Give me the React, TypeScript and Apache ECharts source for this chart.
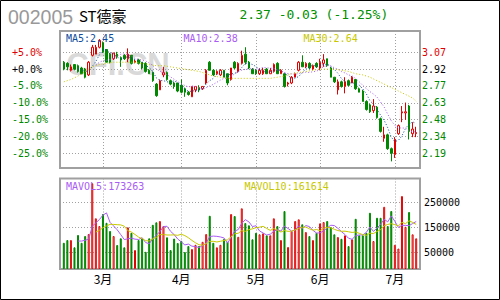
import React, { useEffect, useRef } from 'react';
import * as echarts from 'echarts';

// ---------------- data ----------------
const stockCode = '002005';
const stockName = 'ST德豪';
const quoteText = '2.37 -0.03 (-1.25%)';

const opens = [
  2.98, 2.97, 2.91, 2.96, 2.95, 2.93, 2.92, 2.87, 3.04, 3.05,
  3.11, 3.15, 3.09, 3.05, 3.01, 3.05, 3.02, 3.04, 3.01, 3.04,
  2.98, 3.00, 2.98, 2.97, 2.91, 2.89, 2.79, 2.74, 2.87, 2.89,
  2.82, 2.80, 2.80, 2.78, 2.75, 2.72, 2.68, 2.74, 2.76, 2.75,
  2.80, 2.98, 2.91, 2.88, 2.87, 2.91, 2.88, 2.83, 2.98, 2.90,
  2.97, 3.05, 2.98, 2.92, 2.91, 2.88, 2.88, 2.92, 2.88, 2.90,
  2.97, 2.88, 2.88, 2.79, 2.80, 2.85, 2.91, 2.98, 2.94, 2.97,
  2.92, 2.97, 2.93, 2.97, 3.01, 2.93, 2.85, 2.74, 2.81, 2.77,
  2.82, 2.80, 2.83, 2.75, 2.73, 2.64, 2.61, 2.56, 2.59, 2.49,
  2.32, 2.35, 2.23, 2.18, 2.36, 2.54, 2.54, 2.60, 2.36, 2.36,
];
const closes = [
  2.92, 2.94, 2.94, 2.92, 2.90, 2.88, 2.85, 2.98, 3.11, 3.11,
  3.17, 3.07, 2.98, 2.98, 3.06, 3.03, 3.00, 3.01, 3.05, 2.97,
  2.99, 2.97, 2.93, 2.90, 2.88, 2.82, 2.69, 2.82, 2.89, 2.83,
  2.79, 2.77, 2.73, 2.72, 2.72, 2.70, 2.77, 2.77, 2.74, 2.77,
  2.91, 2.91, 2.87, 2.90, 2.91, 2.85, 2.80, 2.93, 2.93, 2.97,
  3.04, 2.98, 2.93, 2.88, 2.88, 2.91, 2.91, 2.88, 2.91, 2.96,
  2.88, 2.91, 2.77, 2.80, 2.85, 2.88, 2.98, 2.94, 2.97, 2.93,
  2.95, 2.94, 2.98, 3.00, 2.95, 2.85, 2.81, 2.81, 2.77, 2.81,
  2.78, 2.85, 2.75, 2.72, 2.64, 2.57, 2.55, 2.60, 2.50, 2.38,
  2.35, 2.23, 2.19, 2.31, 2.43, 2.55, 2.55, 2.38, 2.40, 2.37,
];
const lows = [
  2.91, 2.91, 2.90, 2.91, 2.89, 2.88, 2.84, 2.86, 3.03, 3.05,
  3.10, 3.06, 2.98, 2.97, 3.00, 3.01, 2.94, 3.00, 2.98, 2.96,
  2.97, 2.96, 2.92, 2.89, 2.88, 2.81, 2.68, 2.74, 2.85, 2.82,
  2.78, 2.75, 2.72, 2.71, 2.68, 2.69, 2.68, 2.72, 2.72, 2.74,
  2.79, 2.91, 2.86, 2.87, 2.86, 2.85, 2.78, 2.82, 2.92, 2.89,
  2.96, 2.96, 2.92, 2.88, 2.87, 2.87, 2.87, 2.88, 2.88, 2.89,
  2.88, 2.88, 2.76, 2.77, 2.79, 2.85, 2.90, 2.94, 2.93, 2.92,
  2.91, 2.93, 2.91, 2.94, 2.94, 2.85, 2.80, 2.70, 2.76, 2.71,
  2.77, 2.80, 2.74, 2.72, 2.64, 2.56, 2.54, 2.54, 2.49, 2.37,
  2.29, 2.22, 2.12, 2.15, 2.35, 2.46, 2.48, 2.31, 2.33, 2.33,
];
const highs = [
  2.99, 2.98, 2.96, 2.96, 2.96, 2.94, 2.93, 2.99, 3.13, 3.13,
  3.18, 3.16, 3.09, 3.06, 3.06, 3.07, 3.03, 3.05, 3.10, 3.04,
  3.00, 3.01, 2.98, 2.98, 2.92, 2.90, 2.80, 2.83, 2.94, 2.90,
  2.83, 2.81, 2.80, 2.83, 2.76, 2.73, 2.77, 2.77, 2.78, 2.77,
  2.92, 2.99, 2.92, 2.91, 2.92, 2.91, 2.88, 2.93, 2.99, 2.98,
  3.08, 3.11, 2.99, 2.93, 2.92, 2.93, 2.93, 2.93, 2.93, 2.97,
  2.98, 2.92, 2.88, 2.81, 2.86, 2.89, 2.99, 3.04, 2.98, 2.98,
  2.96, 2.98, 3.01, 3.05, 3.01, 2.94, 2.85, 2.83, 2.82, 2.85,
  2.83, 2.86, 2.83, 2.76, 2.74, 2.65, 2.62, 2.66, 2.60, 2.50,
  2.42, 2.36, 2.24, 2.33, 2.44, 2.60, 2.63, 2.61, 2.46, 2.42,
];
const volumes = [
  88000, 99000, 99000, 70000, 119000, 88000, 115000, 123000, 326000, 186000,
  155000, 203000, 168000, 135000, 115000, 79000, 106000, 70000, 150000, 128000,
  59000, 99000, 106000, 52000, 106000, 160000, 170000, 175000, 155000, 110000,
  59000, 105000, 87000, 96000, 51000, 75000, 63000, 80000, 75000, 92000,
  123000, 196000, 88000, 70000, 80000, 103000, 92000, 203000, 195000, 112000,
  226000, 167000, 158000, 102000, 128000, 122000, 126000, 118000, 118000, 186000,
  155000, 99000, 215000, 71000, 135000, 175000, 182000, 162000, 131000, 115000,
  99000, 128000, 166000, 171000, 175000, 151000, 122000, 111000, 104000, 118000,
  75000, 102000, 184000, 118000, 118000, 128000, 208000, 95000, 188000, 188000,
  232000, 155000, 215000, 80000, 65000, 275000, 152000, 211000, 122000, 106000,
];
// MA30 as drawn in the reference (earlier history not available)
const ma30Index = [0, 2, 4, 6, 8, 10, 12, 14, 16, 18, 20, 22, 24, 26, 28, 30, 32, 34, 36, 38, 40, 42, 44, 46, 48,
  50, 52, 54, 56, 58, 60, 62, 64, 66, 68, 70, 72, 74, 76, 78, 80, 82, 84, 86, 88, 90, 92, 94, 96, 98, 99];
const ma30Value = [2.81, 2.83, 2.86, 2.90, 2.94, 2.96, 2.97, 2.98, 2.98, 2.98, 2.98, 2.97, 2.96, 2.95, 2.95,
  2.94, 2.93, 2.92, 2.91, 2.90, 2.88, 2.86, 2.85, 2.84, 2.84, 2.84, 2.84, 2.84, 2.84, 2.84, 2.85, 2.86, 2.88,
  2.89, 2.90, 2.91, 2.92, 2.92, 2.92, 2.91, 2.90, 2.88, 2.87, 2.85, 2.82, 2.79, 2.76, 2.73, 2.70, 2.67, 2.64];

const basePrice = 2.92;
const pctTicks = [5, 0, -5, -10, -15, -20, -25];
const pctTickLabels = ['+5.0%', '+0.0%', '-5.0%', '-10.0%', '-15.0%', '-20.0%', '-25.0%'];
const priceTickLabels = ['3.07', '2.92', '2.77', '2.63', '2.48', '2.34', '2.19'];
const pctRange = [-29.37, 11.33];
const volTicks = [50000, 150000, 250000];
const volTickLabels = ['50000', '150000', '250000'];
const volRange = [-16800, 345200];
const monthTickIndex = [11, 33, 54, 72, 93];
const monthTickLabel = ['3月', '4月', '5月', '6月', '7月'];
const legendMain = ['MA5:2.45', 'MA10:2.38', 'MA30:2.64'];
const legendVol = ['MAVOL5:173263', 'MAVOL10:161614'];

// ---------------- styling ----------------
const RED = '#e00000';
const GREEN = '#008800';
const BLUE = '#0d4c9e';
const PURPLE = '#a95cf5';
const YELLOW = '#c8c800';
const GRID_LINE = '#a0a0a0';
const MONO = '"DejaVu Sans Mono", monospace';

function movingAverage(src: number[], n: number) {
  return src.map((_, i) => {
    if (i < n - 1) return null;
    let s = 0;
    for (let k = i - n + 1; k <= i; k++) s += src[k];
    return +(s / n).toFixed(4);
  });
}

export default function App() {
  const ref = useRef<HTMLDivElement>(null);

  useEffect(() => {
    if (!ref.current) return;
    const chart = echarts.init(ref.current, null, { renderer: 'svg' });

    const categories = closes.map((_, i) => String(i));
    const priceMin = basePrice * (1 + pctRange[0] / 100);
    const priceMax = basePrice * (1 + pctRange[1] / 100);
    const priceTickVals = pctTicks.map((p) => basePrice * (1 + p / 100));
    const nearest = (v: any) => {
      const x = Number(v);
      let best = 0;
      priceTickVals.forEach((t, k) => {
        if (Math.abs(t - x) < Math.abs(priceTickVals[best] - x)) best = k;
      });
      return best;
    };
    const tickColor = (v: any) => {
      const p = pctTicks[nearest(v)];
      return p > 0 ? RED : p < 0 ? GREEN : '#000000';
    };
    const volNearest = (v: any) => {
      const x = Number(v);
      let best = 0;
      volTicks.forEach((t, k) => {
        if (Math.abs(t - x) < Math.abs(volTicks[best] - x)) best = k;
      });
      return best;
    };

    const ma5 = movingAverage(closes, 5);
    const ma10 = movingAverage(closes, 10);
    const vma5 = movingAverage(volumes, 5);
    const vma10 = movingAverage(volumes, 10);

    const dotted = [1, 2];
    const isMonth = (idx: number) => monthTickIndex.indexOf(idx) >= 0;

    const hiddenValueX = (gridIndex: number) => ({
      type: 'value', gridIndex, min: 0, max: 1, show: false,
    });
    const dataX = (gridIndex: number, withLabels: boolean) => ({
      type: 'category',
      gridIndex,
      data: categories,
      boundaryGap: false,
      axisLine: { show: false },
      axisTick: { show: false },
      axisLabel: {
        show: withLabels,
        interval: (idx: number) => isMonth(idx),
        formatter: (_v: string, idx: number) => monthTickLabel[monthTickIndex.indexOf(idx)] || '',
        color: '#000',
        fontSize: 12,
        fontFamily: '"Noto Sans CJK SC", sans-serif',
        margin: 3,
      },
      splitLine: {
        show: true,
        interval: (idx: number) => isMonth(idx),
        lineStyle: { color: GRID_LINE, width: 1, type: dotted },
      },
    });

    const option: any = {
      animation: false,
      backgroundColor: '#ffffff',
      grid: [
        { left: 60, top: 31, width: 360, height: 137, show: true, borderColor: GRID_LINE, borderWidth: 2, backgroundColor: 'transparent' },
        { left: 63.8, top: 31, width: 352.4, height: 137 },
        { left: 60, top: 178.5, width: 360, height: 90.5, show: true, borderColor: GRID_LINE, borderWidth: 2, backgroundColor: 'transparent' },
        { left: 63.8, top: 178.5, width: 352.4, height: 90.5 },
      ],
      xAxis: [hiddenValueX(0), dataX(1, false), hiddenValueX(2), dataX(3, true)],
      yAxis: [
        {
          type: 'value', gridIndex: 0, position: 'left', min: priceMin, max: priceMax,
          axisLine: { show: false },
          axisTick: { show: false, customValues: priceTickVals },
          axisLabel: {
            customValues: priceTickVals,
            formatter: (v: any) => pctTickLabels[nearest(v)],
            color: (v: any) => tickColor(v),
            align: 'left', margin: 48, fontSize: 10, fontFamily: MONO,
          },
          splitLine: { show: true, lineStyle: { color: GRID_LINE, width: 1, type: dotted } },
        },
        {
          type: 'value', gridIndex: 0, position: 'right', min: priceMin, max: priceMax,
          axisLine: { show: false },
          axisTick: { show: false, customValues: priceTickVals },
          axisLabel: {
            customValues: priceTickVals,
            formatter: (v: any) => priceTickLabels[nearest(v)],
            color: (v: any) => tickColor(v),
            align: 'left', margin: 2, fontSize: 10, fontFamily: MONO,
          },
          splitLine: { show: false },
        },
        { type: 'value', gridIndex: 1, min: priceMin, max: priceMax, show: false, splitLine: { show: false } },
        {
          type: 'value', gridIndex: 2, position: 'right', min: volRange[0], max: volRange[1],
          axisLine: { show: false },
          axisTick: { show: false, customValues: volTicks },
          axisLabel: {
            customValues: volTicks,
            formatter: (v: any) => volTickLabels[volNearest(v)],
            color: '#000', align: 'left', margin: 4, fontSize: 10, fontFamily: MONO,
          },
          splitLine: { show: true, lineStyle: { color: GRID_LINE, width: 1, type: dotted } },
        },
        {
          type: 'value', gridIndex: 3, min: volRange[0], max: volRange[1], startValue: volRange[0],
          show: false, splitLine: { show: false },
        },
      ],
      series: [
        {
          type: 'candlestick',
          xAxisIndex: 1, yAxisIndex: 2,
          barWidth: 2,
          clip: false,
          data: opens.map((o, i) => [o, closes[i], lows[i], highs[i]]),
          itemStyle: {
            color: '#ffffff', color0: GREEN, borderColor: RED, borderColor0: GREEN, borderWidth: 1,
          },
        },
        {
          type: 'line', xAxisIndex: 1, yAxisIndex: 2, data: ma5, symbol: 'none', showSymbol: false,
          lineStyle: { color: BLUE, width: 1, type: dotted }, z: 3,
        },
        {
          type: 'line', xAxisIndex: 1, yAxisIndex: 2, data: ma10, symbol: 'none', showSymbol: false,
          lineStyle: { color: PURPLE, width: 1, type: dotted }, z: 3,
        },
        {
          type: 'line', xAxisIndex: 1, yAxisIndex: 2, symbol: 'none', showSymbol: false,
          data: ma30Index.map((ix, k) => [ix, ma30Value[k]]),
          lineStyle: { color: YELLOW, width: 1, type: dotted }, z: 3,
        },
        {
          type: 'bar', xAxisIndex: 3, yAxisIndex: 4, barWidth: 2, clip: false,
          data: volumes.map((v, i) => ({
            value: v,
            itemStyle: closes[i] >= opens[i]
              ? { color: '#ffffff', borderColor: RED, borderWidth: 1 }
              : { color: GREEN, borderColor: GREEN, borderWidth: 1 },
          })),
        },
        {
          type: 'line', xAxisIndex: 3, yAxisIndex: 4, data: vma5, symbol: 'none', showSymbol: false,
          lineStyle: { color: PURPLE, width: 1 }, z: 3,
        },
        {
          type: 'line', xAxisIndex: 3, yAxisIndex: 4, data: vma10, symbol: 'none', showSymbol: false,
          lineStyle: { color: YELLOW, width: 1 }, z: 3,
        },
      ],
      graphic: [
        {
          type: 'text', x: 118, y: 64.5, z: -10, silent: true,
          style: { text: 'CFI.CN', fill: '#d9d9d9', font: 'bold 31px "Liberation Sans", Arial, sans-serif', textAlign: 'center', textVerticalAlign: 'middle' },
        },
        {
          type: 'text', x: 8, y: 16.5, silent: true,
          style: { text: stockCode, fill: '#999999', font: '19.5px "Liberation Sans", Arial, sans-serif', textAlign: 'left', textVerticalAlign: 'middle' },
        },
        {
          type: 'text', x: 79, y: 15, silent: true,
          style: { text: stockName, fill: '#000000', font: '15px "Noto Sans CJK SC", sans-serif', textAlign: 'left', textVerticalAlign: 'middle' },
        },
        {
          type: 'text', x: 239.5, y: 14.7, silent: true,
          style: { text: quoteText, fill: '#009000', font: '13px "DejaVu Sans Mono", monospace', textAlign: 'left', textVerticalAlign: 'middle' },
        },
        {
          type: 'text', x: 66, y: 38.7, silent: true, z: 10,
          style: { text: legendMain[0], fill: BLUE, font: '10px "DejaVu Sans Mono", monospace', textAlign: 'left', textVerticalAlign: 'middle' },
        },
        {
          type: 'text', x: 183.5, y: 38.7, silent: true, z: 10,
          style: { text: legendMain[1], fill: PURPLE, font: '10px "DejaVu Sans Mono", monospace', textAlign: 'left', textVerticalAlign: 'middle' },
        },
        {
          type: 'text', x: 303.5, y: 38.7, silent: true, z: 10,
          style: { text: legendMain[2], fill: YELLOW, font: '10px "DejaVu Sans Mono", monospace', textAlign: 'left', textVerticalAlign: 'middle' },
        },
        {
          type: 'text', x: 66, y: 186, silent: true, z: 10,
          style: { text: legendVol[0], fill: PURPLE, font: '10px "DejaVu Sans Mono", monospace', textAlign: 'left', textVerticalAlign: 'middle' },
        },
        {
          type: 'text', x: 244.5, y: 186, silent: true, z: 10,
          style: { text: legendVol[1], fill: YELLOW, font: '10px "DejaVu Sans Mono", monospace', textAlign: 'left', textVerticalAlign: 'middle' },
        },
        {
          type: 'rect', silent: true, z: 100,
          shape: { x: 0.5, y: 0.5, width: 499, height: 299 },
          style: { fill: 'none', stroke: '#000000', lineWidth: 1 },
        },
      ],
    };

    chart.setOption(option);
    return () => chart.dispose();
  }, []);

  return (
    <div
      ref={ref}
      style={{ position: 'absolute', left: 0, top: 0, width: 500, height: 300, background: '#ffffff' }}
    />
  );
}
